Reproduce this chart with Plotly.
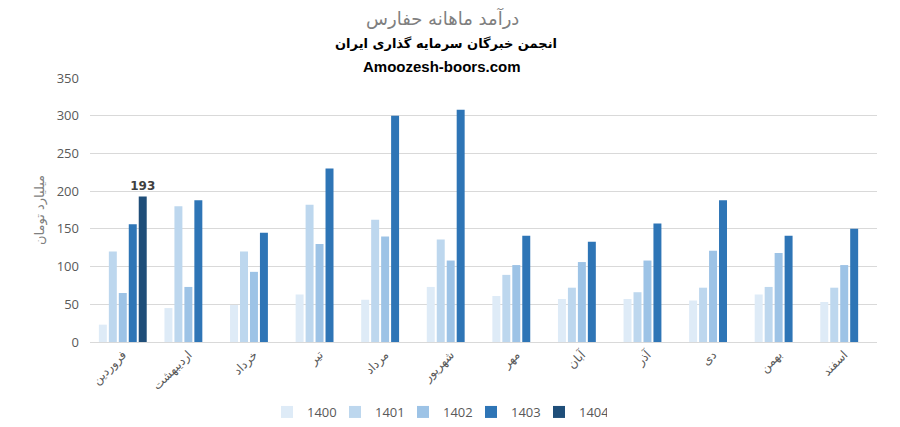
import plotly.graph_objects as go

months = ["فروردین", "اردیبهشت", "خرداد", "تیر", "مرداد", "شهریور",
          "مهر", "آبان", "آذر", "دی", "بهمن", "اسفند"]
years = ["1400", "1401", "1402", "1403", "1404"]
v1400 = [23, 45, 49, 63, 56, 73, 61, 57, 57, 55, 63, 53]
v1401 = [120, 180, 120, 182, 162, 136, 89, 72, 66, 72, 73, 72]
v1402 = [65, 73, 93, 130, 140, 108, 102, 106, 108, 121, 118, 102]
v1403 = [156, 188, 145, 230, 300, 308, 141, 133, 157, 188, 141, 150]
v1404 = [193, None, None, None, None, None, None, None, None, None, None, None]
colors = ["#DEEBF7", "#BDD7EE", "#9DC3E6", "#2E75B6", "#1F4E79"]

series = [v1400, v1401, v1402, v1403, v1404]
fig = go.Figure()
for name, vals, col in zip(years, series, colors):
    kw = {}
    if name == "1404":
        kw = dict(text=[str(v) if v is not None else "" for v in vals],
                  textposition="outside", constraintext="none",
                  textfont=dict(family="DejaVu Sans", size=12, color="#404040"),
                  texttemplate="<b>%{text}</b>", cliponaxis=False)
    fig.add_trace(go.Bar(x=months, y=vals, name=name, marker_color=col,
                         marker_line_width=0, **kw))

OFF = 8  # default page margin of the html body
W, H = 900, 427
L, R = 90 - OFF, W - (877 - OFF)
T, B = 78 - OFF, H - (342 - OFF)
pw, ph = W - L - R, H - T - B

def px(pix):
    return (pix - OFF - L) / pw
def py(pix):
    return (H - B - (pix - OFF)) / ph

fig.update_layout(
    width=W, height=H,
    barmode="group", bargap=0.24, bargroupgap=0.2,
    plot_bgcolor="white", paper_bgcolor="white",
    margin=dict(l=L, r=R, t=T, b=B, autoexpand=False),
    font=dict(family="Open Sans", color="#595959", size=13),
    showlegend=True,
    legend=dict(orientation="h", x=px(437), xanchor="center",
                yref="container", y=(H - (412 - OFF)) / H, yanchor="middle",
                font=dict(size=13, color="#595959"), itemwidth=30,
                entrywidth=23, entrywidthmode="pixels",
                traceorder="normal"),
)

fig.add_annotation(text="درآمد ماهانه حفارس", x=px(442), y=py(18), xref="paper", yref="paper",
                   showarrow=False, yanchor="middle",
                   font=dict(family="DejaVu Sans", size=18, color="#7F7F7F"))
fig.add_annotation(text="<b>انجمن خبرگان سرمایه گذاری ایران</b>", x=px(446), y=py(44),
                   xref="paper", yref="paper", showarrow=False, yanchor="middle",
                   font=dict(family="DejaVu Sans", size=13, color="#000000"))
fig.add_annotation(text="<b>Amoozesh-boors.com</b>", x=px(442), y=py(67),
                   xref="paper", yref="paper", showarrow=False, yanchor="middle",
                   font=dict(family="Liberation Sans", size=15, color="#000000"))
fig.add_annotation(text="میلیارد تومان", x=px(40), y=py(210), xref="paper", yref="paper",
                   showarrow=False, textangle=-90, xanchor="center", yanchor="middle",
                   font=dict(family="DejaVu Sans", size=13, color="#7F7F7F"))

fig.update_yaxes(range=[0, 350], dtick=50, showgrid=True, gridcolor="#D9D9D9",
                 gridwidth=1, zeroline=False, showline=False,
                 tickfont=dict(size=13, color="#595959"), ticks="", ticklabelstandoff=10)
fig.update_xaxes(showline=True, linecolor="#D9D9D9", linewidth=1, tickangle=-45,
                 tickfont=dict(family="DejaVu Sans", size=12, color="#595959"), ticks="")

fig.write_html("out.html")
